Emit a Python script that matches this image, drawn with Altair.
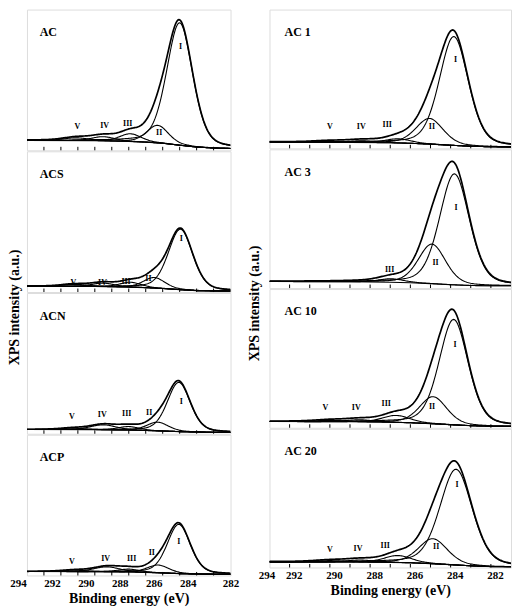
import altair as alt
import numpy as np
import pandas as pd

# ---------------- values ----------------
# x grid for drawing the fitted peak shapes (binding energy, eV)
E_GRID = np.round(np.arange(282.0, 294.0001, 0.05), 3)
# baseline (background) anchor energies
BASE_E = [294, 290, 288, 287, 286, 285, 284, 283, 282]
TICKS = [283, 284, 285, 286, 287, 288, 289, 290, 291, 292, 293]
LABEL_TICKS = [294, 292, 290, 288, 286, 284, 282]
COMP_NAMES = ["I", "II", "III", "IV", "V"]

# each panel: baseline values (% of panel height), peak centres (eV), heights (%), FWHM (eV)
AC_BASE = [7.0, 6.8, 6.3, 5.8, 5.0, 3.6, 2.3, 1.6, 1.3]
AC_CENTERS = [285.0, 286.3, 287.9, 289.5, 291.1]
AC_HEIGHTS = [87.0, 12.5, 5.5, 3.0, 2.0]
AC_WIDTHS = [1.8, 1.5, 1.5, 1.6, 1.8]
AC_LAB_E = [284.95, 286.21, 288.06, 289.42, 291.03]
AC_LAB_Y = [73.4, 12.2, 18.8, 17.1, 16.4]

ACS_BASE = [4.1, 3.9, 3.5, 3.1, 2.5, 1.7, 1.0, 0.8, 0.7]
ACS_CENTERS = [284.95, 286.5, 287.9, 289.5, 291.2]
ACS_HEIGHTS = [43.0, 7.5, 3.5, 2.5, 1.5]
ACS_WIDTHS = [1.7, 1.5, 1.5, 1.6, 1.8]
ACS_LAB_E = [284.9, 286.84, 288.16, 289.55, 291.26]
ACS_LAB_Y = [37.7, 9.6, 7.0, 6.4, 6.4]

ACN_BASE = [3.0, 2.9, 2.6, 2.3, 1.9, 1.5, 1.2, 1.0, 0.9]
ACN_CENTERS = [285.05, 286.3, 288.0, 289.5, 291.3]
ACN_HEIGHTS = [35.0, 6.2, 2.5, 3.5, 1.0]
ACN_WIDTHS = [1.6, 1.5, 1.5, 1.8, 1.8]
ACN_LAB_E = [284.9, 286.8, 288.12, 289.56, 291.36]
ACN_LAB_Y = [22.6, 14.5, 13.8, 13.3, 12.2]

ACP_BASE = [2.8, 2.7, 2.5, 2.2, 1.8, 1.3, 1.0, 0.9, 0.8]
ACP_CENTERS = [285.05, 286.27, 288.0, 289.3, 291.2]
ACP_HEIGHTS = [35.0, 5.5, 2.0, 3.5, 1.0]
ACP_WIDTHS = [1.6, 1.5, 1.5, 1.8, 1.8]
ACP_LAB_E = [285.05, 286.64, 287.83, 289.36, 291.36]
ACP_LAB_Y = [23.8, 15.8, 11.6, 12.0, 9.7]

AC1_BASE = [4.5, 4.3, 4.0, 3.6, 3.0, 2.2, 1.5, 1.1, 1.0]
AC1_CENTERS = [284.84, 286.05, 287.6, 289.4, 291.0]
AC1_HEIGHTS = [78.5, 18.5, 3.0, 1.2, 0.8]
AC1_WIDTHS = [1.7, 1.6, 1.5, 1.6, 1.8]
AC1_LAB_E = [284.76, 285.93, 288.15, 289.44, 291.0]
AC1_LAB_Y = [64.0, 15.1, 16.8, 15.1, 15.1]

AC3_BASE = [4.7, 4.5, 4.2, 3.8, 3.2, 2.4, 1.8, 1.6, 1.6]
AC3_CENTERS = [284.81, 285.93, 287.95]
AC3_HEIGHTS = [80.0, 28.5, 2.5]
AC3_WIDTHS = [1.75, 1.6, 1.5]
AC3_LAB_E = [284.73, 285.75, 288.03]
AC3_LAB_Y = [58.0, 18.1, 12.9]

AC10_BASE = [4.5, 4.3, 4.0, 3.6, 3.0, 2.2, 1.5, 1.1, 1.0]
AC10_CENTERS = [284.85, 285.87, 287.7, 289.5, 291.0]
AC10_HEIGHTS = [76.0, 19.5, 5.0, 1.5, 1.0]
AC10_WIDTHS = [1.7, 1.6, 1.6, 1.6, 1.8]
AC10_LAB_E = [284.78, 285.92, 288.2, 289.69, 291.22]
AC10_LAB_Y = [59.6, 14.9, 17.0, 14.2, 14.2]

AC20_BASE = [4.0, 3.9, 3.7, 3.4, 2.8, 2.0, 1.2, 0.6, 0.4]
AC20_CENTERS = [284.73, 285.88, 287.62, 289.5, 291.0]
AC20_HEIGHTS = [69.0, 18.0, 5.0, 1.5, 1.0]
AC20_WIDTHS = [1.9, 1.7, 1.6, 1.6, 1.8]
AC20_LAB_E = [284.68, 285.72, 288.25, 289.6, 291.0]
AC20_LAB_Y = [59.6, 14.6, 15.8, 13.0, 12.8]

NAME_E = 293.25
NAME_Y = 84.0

SERIF = "Liberation Serif"


def pseudo_voigt(e, c, a, w, m=0.3):
    d = (e - c) / w
    return a * ((1 - m) * np.exp(-4 * np.log(2) * d * d) + m / (1 + 4 * d * d))


def panel(name, base, centers, heights, widths, lab_e, lab_y, w, h, bottom, label_offset=None):
    bg = np.interp(E_GRID, BASE_E[::-1], base[::-1])
    rows = []
    env = bg.copy()
    for i, (c, a, fw) in enumerate(zip(centers, heights, widths)):
        comp = pseudo_voigt(E_GRID, c, a, fw)
        env = env + comp
        for e, v in zip(E_GRID, bg + comp):
            rows.append({"E": float(e), "v": float(v), "curve": COMP_NAMES[i]})
    for e, v in zip(BASE_E, base):
        rows.append({"E": float(e), "v": float(v), "curve": "bg"})
    comp_df = pd.DataFrame(rows)
    env_df = pd.DataFrame({"E": E_GRID, "v": env})
    lab_df = pd.DataFrame({"E": lab_e, "v": lab_y, "t": COMP_NAMES[:len(lab_e)]})
    name_df = pd.DataFrame({"E": [NAME_E], "v": [NAME_Y], "t": [name]})
    tick_df = pd.DataFrame({"E": TICKS})

    xscale = alt.Scale(domain=[282, 294], reverse=True, nice=False, zero=False)
    yscale = alt.Scale(domain=[0, 100], nice=False, zero=False)
    if bottom:
        xaxis = alt.Axis(values=LABEL_TICKS, format="d", labelFont=SERIF, labelFontSize=11,
                         labelFontWeight="bold", labelColor="black", labelFlush=False,
                         labelOffset=label_offset,
                         labelPadding=2, ticks=False, domain=False, grid=False,
                         title="Binding energy (eV)", titleFont=SERIF, titleFontSize=14,
                         titleFontWeight="bold", titleColor="black", titlePadding=3)
    else:
        xaxis = None
    X = alt.X("E:Q", scale=xscale, axis=xaxis)
    Y = alt.Y("v:Q", scale=yscale, axis=None)

    comps = alt.Chart(comp_df).mark_line(color="black", strokeWidth=1.1, clip=True).encode(
        x=X, y=Y, detail="curve:N")
    envl = alt.Chart(env_df).mark_line(color="black", strokeWidth=1.7, clip=True).encode(x=X, y=Y)
    ticks = alt.Chart(tick_df).mark_rule(color="black", strokeWidth=1).encode(
        x=X, y=alt.value(h), y2=alt.value(h - 3.5))
    labs = alt.Chart(lab_df).mark_text(font=SERIF, fontSize=8, fontWeight="bold", color="black",
                                       baseline="middle").encode(x=X, y=Y, text="t:N")
    nm = alt.Chart(name_df).mark_text(font=SERIF, fontSize=12, fontWeight="bold", color="black",
                                      align="left", baseline="middle").encode(x=X, y=Y, text="t:N")
    return alt.layer(comps, envl, ticks, labs, nm).properties(width=w, height=h)


def ytitle(offset):
    return alt.TitleParams(text="XPS intensity (a.u.)", orient="left", anchor="middle", font=SERIF,
                           fontSize=14, fontWeight="bold", color="black", offset=offset)


LW, LH = 204, 141
RW, RH = 242, 139

LEFT_OFF = {"condition": {"test": "datum.value == 282", "value": 0}, "value": -9}
RIGHT_OFF = {"condition": {"test": "datum.value == 294", "value": -3}, "value": -16}

left = alt.vconcat(
    panel("AC", AC_BASE, AC_CENTERS, AC_HEIGHTS, AC_WIDTHS, AC_LAB_E, AC_LAB_Y, LW, LH, False),
    panel("ACS", ACS_BASE, ACS_CENTERS, ACS_HEIGHTS, ACS_WIDTHS, ACS_LAB_E, ACS_LAB_Y, LW, LH, False),
    panel("ACN", ACN_BASE, ACN_CENTERS, ACN_HEIGHTS, ACN_WIDTHS, ACN_LAB_E, ACN_LAB_Y, LW, LH, False),
    panel("ACP", ACP_BASE, ACP_CENTERS, ACP_HEIGHTS, ACP_WIDTHS, ACP_LAB_E, ACP_LAB_Y, LW, LH, True,
          LEFT_OFF),
    spacing=-2, title=ytitle(-13))

right = alt.vconcat(
    panel("AC 1", AC1_BASE, AC1_CENTERS, AC1_HEIGHTS, AC1_WIDTHS, AC1_LAB_E, AC1_LAB_Y, RW, RH, False),
    panel("AC 3", AC3_BASE, AC3_CENTERS, AC3_HEIGHTS, AC3_WIDTHS, AC3_LAB_E, AC3_LAB_Y, RW, RH, False),
    panel("AC 10", AC10_BASE, AC10_CENTERS, AC10_HEIGHTS, AC10_WIDTHS, AC10_LAB_E, AC10_LAB_Y, RW, RH, False),
    panel("AC 20", AC20_BASE, AC20_CENTERS, AC20_HEIGHTS, AC20_WIDTHS, AC20_LAB_E, AC20_LAB_Y, RW, RH, True,
          RIGHT_OFF),
    spacing=-2, title=ytitle(-4))

chart = alt.hconcat(left, right, spacing=8).properties(padding=0).configure_view(
    stroke="black", strokeWidth=1.2).configure(background="white")

chart.save("out.html", embed_options={"renderer": "svg", "actions": False})
